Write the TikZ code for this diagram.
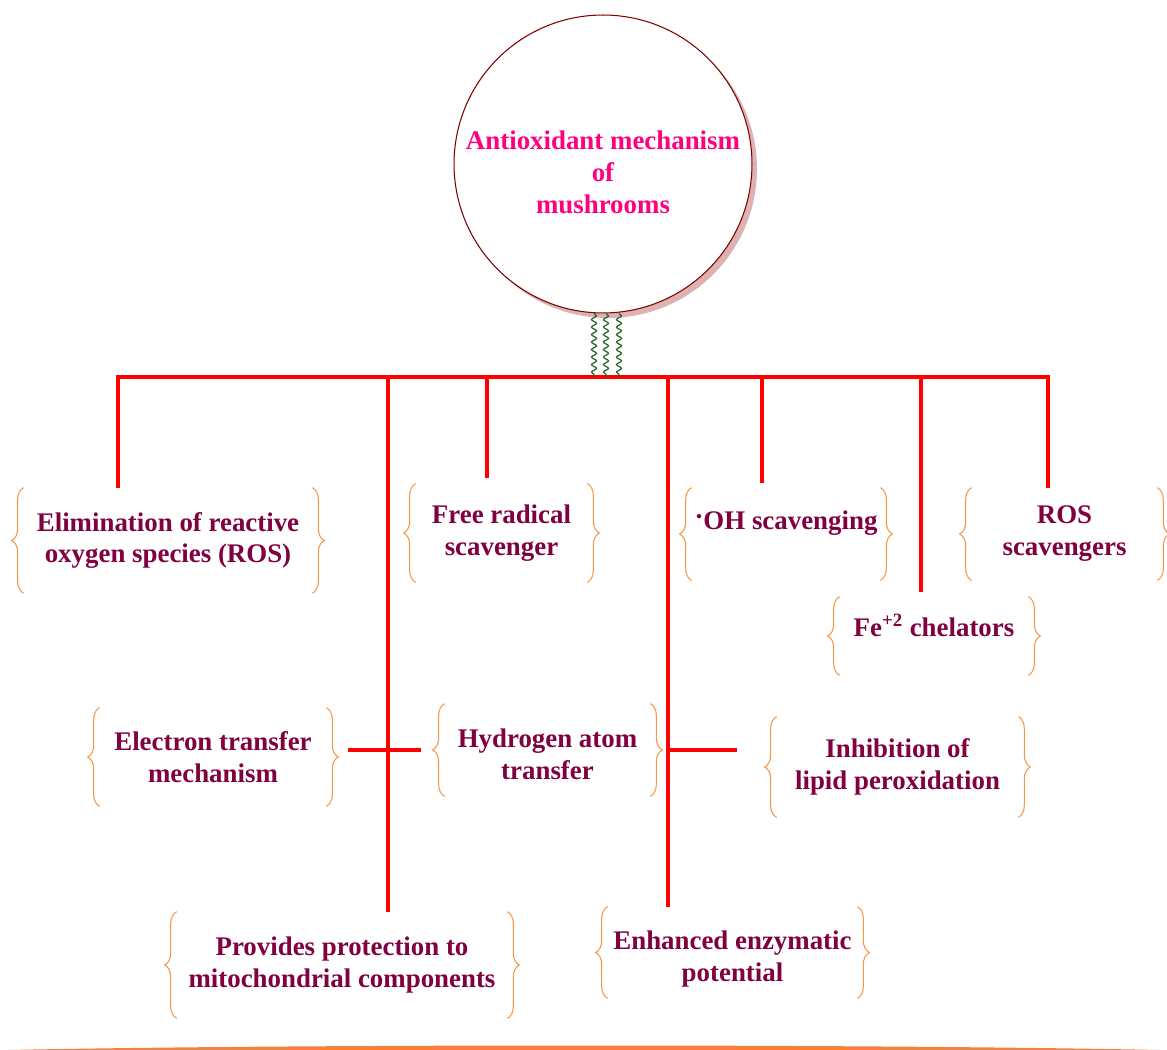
\documentclass[tikz,border=0pt]{standalone}
\usepackage{fontspec}
\setmainfont{Liberation Serif}
\usetikzlibrary{decorations.pathmorphing,decorations.pathreplacing}
\definecolor{boxtext}{RGB}{128,0,64}
\definecolor{titlepink}{RGB}{255,0,128}
\definecolor{linered}{RGB}{255,0,0}
\definecolor{braceorange}{RGB}{247,150,70}
\definecolor{circleline}{RGB}{128,0,0}
\definecolor{shadowpink}{RGB}{220,178,178}
\definecolor{wavegreen}{RGB}{40,100,40}
\definecolor{bottomorange}{RGB}{245,130,60}
\tikzset{
  redline/.style={draw=linered, line width=2.3pt},
  brc/.style={draw=braceorange, line width=0.6pt, decorate,
              decoration={brace, amplitude=0.24cm}},
  boxtxt/.style={inner sep=0pt, align=center, text=boxtext,
                 font=\fontsize{15.3pt}{18.2pt}\selectfont\bfseries},
  wave/.style={draw=wavegreen, line width=0.7pt, decorate,
               decoration={snake, segment length=1.5mm, amplitude=0.5mm}},
}
\begin{document}
\begin{tikzpicture}[x=0.02cm,y=-0.02cm]
\useasboundingbox (0,0) rectangle (1167,1050);
% title circle with its shadow
\fill[shadowpink] (608,169) circle[radius=2.98cm];
\node[circle, draw=circleline, line width=0.6pt, fill=white, minimum size=5.96cm,
      inner sep=0pt, align=center, text=titlepink, text height=56pt,
      font=\fontsize{15.3pt}{18.2pt}\selectfont\bfseries]
      (circ) at (603,164) {Antioxidant mechanism\\of\\mushrooms};
% top row
\node[boxtxt, minimum width=5.76cm, minimum height=2.1cm] (elim) at (168,540.5)
      {Elimination of reactive\\oxygen species (ROS)};
\node[boxtxt, minimum width=3.42cm, minimum height=1.96cm] (free) at (501.5,533)
      {Free radical\\scavenger};
\node[boxtxt, minimum width=3.76cm, minimum height=1.84cm, text depth=15.8pt] (oh) at (786,534)
      {\raisebox{.35ex}{·}OH scavenging};
\node[boxtxt, minimum width=3.7cm, minimum height=1.84cm] (ros) at (1064.5,534)
      {ROS\\scavengers};
\node[boxtxt, minimum width=3.76cm, minimum height=1.56cm, text depth=12.2pt] (fe) at (934,636)
      {Fe\textsuperscript{+2} chelators};
% middle row
\node[boxtxt, minimum width=4.52cm, minimum height=1.96cm] (etm) at (213,757)
      {Electron transfer\\mechanism};
\node[boxtxt, minimum width=4.1cm, minimum height=1.84cm, text height=34pt] (hat) at (547.5,750)
      {Hydrogen atom\\transfer};
\node[boxtxt, minimum width=4.82cm, minimum height=2cm] (inh) at (897.5,767)
      {Inhibition of\\lipid peroxidation};
% bottom row
\node[boxtxt, minimum width=6.6cm, minimum height=2.12cm] (prot) at (342,965)
      {Provides protection to\\mitochondrial components};
\node[boxtxt, minimum width=4.98cm, minimum height=1.82cm, text height=36.6pt] (enz) at (732.5,952.5)
      {Enhanced enzymatic\\potential};
% braces round the boxes
\foreach \n in {elim,free,oh,ros,fe,etm,hat,inh,prot,enz}{
  \draw[brc] (\n.south west) -- (\n.north west);
  \draw[brc] (\n.north east) -- (\n.south east);
}
% red bar
\coordinate (bar) at (603,377);
\coordinate (d1) at (118,377);
\coordinate (d2) at (388,377);
\coordinate (d3) at (487,377);
\coordinate (d4) at (668,377);
\coordinate (d5) at (762,377);
\coordinate (d6) at (921,377);
\coordinate (d7) at (1048,377);
\draw[redline] (d1 |- elim.north) -- (d1) -- (d7) -- (d7 |- ros.north);
\draw[redline] (d2) -- (d2 |- prot.north);
\draw[redline, shorten >=3.4pt] (d3) -- (d3 |- free.north);
\draw[redline] (d4) -- (d4 |- enz.north);
\draw[redline, shorten >=2.8pt] (d5) -- (d5 |- oh.north);
\draw[redline, shorten >=2.8pt] (d6) -- (d6 |- fe.north);
% cross ticks
\draw[redline, shorten <=13.6pt, shorten >=12.5pt] (hat.west) -- (hat.west -| etm.east);
\draw[redline, shorten >=22.7pt] (hat.east -| d4) -- (hat.east -| inh.west);
% wavy links circle - bar
\foreach \dx in {-9,3,16}
  \draw[wave] ([xshift={\dx*0.02cm}]circ.south) -- ([xshift={\dx*0.02cm}]bar);
% bottom rule
\fill[bottomorange] (8,1050) .. controls (300,1044) and (870,1044) .. (1160,1050) -- cycle;
\end{tikzpicture}
\end{document}
